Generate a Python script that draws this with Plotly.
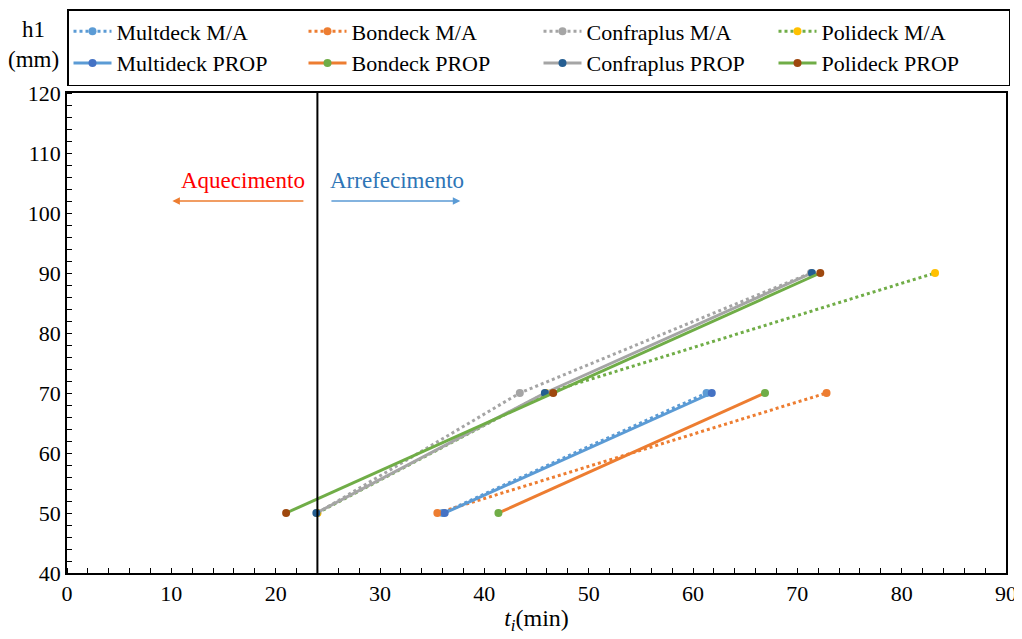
import plotly.graph_objects as go

# ---- data ----
h_two = [50, 70]
h_three = [50, 70, 90]

multdeck_ma_t = [36.0, 61.3]
bondeck_ma_t = [35.5, 72.8]
confraplus_ma_t = [24.0, 43.4, 71.3]
polideck_ma_t = [24.0, 45.9, 83.2]

multideck_prop_t = [36.2, 61.8]
bondeck_prop_t = [41.35, 66.9]
confraplus_prop_t = [23.9, 45.8, 71.4]
polideck_prop_t = [21.0, 46.6, 72.2]

boundary_t = 24.0

x_ticks = [0, 10, 20, 30, 40, 50, 60, 70, 80, 90]
y_ticks = [40, 50, 60, 70, 80, 90, 100, 110, 120]

BLUE = "#5B9BD5"
ORANGE = "#ED7D31"
GRAY = "#A5A5A5"
YELLOW = "#FFC000"
GREEN = "#70AD47"
DBLUE = "#4472C4"
NAVY = "#255E91"
BROWN = "#9E480E"

FONT = "Liberation Serif"

fig = go.Figure()

def add(name, t, h, line_color, marker_color, dash):
    fig.add_trace(go.Scatter(
        x=t, y=h, name=name, mode="lines+markers",
        line=dict(color=line_color, width=3, dash=dash),
        marker=dict(color=marker_color, size=8),
    ))

add("Multdeck M/A", multdeck_ma_t, h_two, BLUE, BLUE, "dot")
add("Bondeck M/A", bondeck_ma_t, h_two, ORANGE, ORANGE, "dot")
add("Confraplus M/A", confraplus_ma_t, h_three, GRAY, GRAY, "dot")
add("Polideck M/A", polideck_ma_t, h_three, GREEN, YELLOW, "dot")
add("Multideck PROP", multideck_prop_t, h_two, BLUE, DBLUE, "solid")
add("Bondeck PROP", bondeck_prop_t, h_two, ORANGE, GREEN, "solid")
add("Confraplus PROP", confraplus_prop_t, h_three, GRAY, NAVY, "solid")
add("Polideck PROP", polideck_prop_t, h_three, GREEN, BROWN, "solid")

fig.add_shape(type="line", x0=boundary_t, x1=boundary_t, y0=40, y1=120,
              xref="x", yref="y", line=dict(color="black", width=2), layer="above")

fig.add_annotation(x=10.1, y=102, ax=22.8, ay=102, xref="x", yref="y", axref="x", ayref="y",
                   showarrow=True, arrowhead=2, arrowsize=1, arrowwidth=1.5, arrowcolor=ORANGE, text="")
fig.add_annotation(x=37.7, y=102, ax=25.2, ay=102, xref="x", yref="y", axref="x", ayref="y",
                   showarrow=True, arrowhead=2, arrowsize=1, arrowwidth=1.5, arrowcolor=BLUE, text="")
fig.add_annotation(x=16.9, y=105.5, xref="x", yref="y", text="Aquecimento", showarrow=False,
                   font=dict(family=FONT, size=23, color="#FF0000"))
fig.add_annotation(x=31.6, y=105.5, xref="x", yref="y", text="Arrefecimento", showarrow=False,
                   font=dict(family=FONT, size=23, color="#2E75B6"))

fig.add_annotation(x=-0.036, y=1.133, xref="paper", yref="paper", text="h1", showarrow=False,
                   xanchor="center", yanchor="middle",
                   font=dict(family=FONT, size=23, color="black"))
fig.add_annotation(x=-0.036, y=1.069, xref="paper", yref="paper", text="(mm)", showarrow=False,
                   xanchor="center", yanchor="middle",
                   font=dict(family=FONT, size=23, color="black"))

fig.update_layout(
    width=1014, height=631,
    paper_bgcolor="white", plot_bgcolor="white",
    margin=dict(l=59, r=16, t=85, b=66, autoexpand=False),
    font=dict(family=FONT, size=22, color="black"),
    showlegend=True,
    legend=dict(
        orientation="h", x=0, y=1.175, xref="paper", yref="paper",
        xanchor="left", yanchor="top",
        entrywidth=182, entrywidthmode="pixels",
        bordercolor="black", borderwidth=1.5,
        font=dict(family=FONT, size=22, color="black"),
        itemwidth=38,
    ),
    xaxis=dict(
        range=[0, 90], tickvals=x_ticks, ticktext=[str(v) for v in x_ticks],
        showgrid=False, zeroline=False,
        showline=True, linecolor="black", linewidth=1.5, mirror=True,
        ticks="", title=dict(text="<i>t</i><sub><i>i</i></sub>(min)", standoff=4,
                             font=dict(family=FONT, size=24)),
        minor=dict(dtick=2, tick0=0, ticks="inside", ticklen=5, tickcolor="black", showgrid=False),
        tickfont=dict(family=FONT, size=22),
    ),
    yaxis=dict(
        range=[40, 120], tickvals=y_ticks, ticktext=[str(v) for v in y_ticks],
        showgrid=False, zeroline=False,
        showline=True, linecolor="black", linewidth=1.5, mirror=True,
        ticks="", minor=dict(dtick=2, tick0=40, ticks="inside", ticklen=5, tickcolor="black", showgrid=False),
        tickfont=dict(family=FONT, size=22),
    ),
)

fig.write_html("out.html")
